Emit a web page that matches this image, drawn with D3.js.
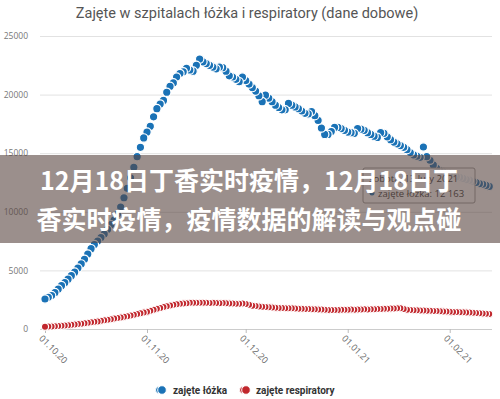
<!DOCTYPE html>
<html>
<head>
<meta charset="utf-8">
<script src="https://cdn.jsdelivr.net/npm/d3@7"></script>
<style>
  html, body { margin: 0; padding: 0; background: #fff; }
  svg { display: block; }
</style>
</head>
<body>
<svg id="chart" width="500" height="399"></svg>
<script>
// daily values from 01.10.2020 to 13.02.2021
const startDay = '2020-10-01';
const endDay = '2021-02-14';
const beds = [
  2560, 2700, 2850, 3100, 3400, 3700, 3950, 4250, 4550, 4850,
  5200, 5550, 5950, 6400, 6850, 7200, 7500, 7800, 8100, 8500,
  8900, 9300, 9800, 10400, 11200, 12000, 12900, 13800, 14700, 15500,
  16300, 16800, 17300, 18100, 18800, 19200, 19500, 20200, 20700, 21000,
  21500, 21800, 21950, 22250, 22100, 22000, 22500, 23030, 22800, 22650,
  22500, 22350, 22200, 22350, 22300, 22000, 21600, 21500, 21300, 21100,
  21500, 21200, 20900, 20600, 20300, 19900, 19400, 19950, 19700, 19400,
  19100, 18900, 18700, 18700, 19250, 19100, 18950, 18800, 18600, 18400,
  18350, 18550, 18200, 17800, 17150, 16600, 16600, 16850, 17200, 17200,
  17100, 16950, 16800, 16750, 16700, 17100, 17050, 16950, 16750, 16600,
  16450, 16350, 16750, 16700, 16400, 16150, 15950, 15800, 15650, 15500,
  15300, 15050, 14850, 14750, 14650, 15530, 14700, 14400, 14000, 13700,
  13500, 13400, 13300, 13300, 13150, 13000, 12950, 12850, 12750, 12700,
  12600, 12500, 12400, 12350, 12250, 12163
];
const respirators = [
  200, 210, 220, 240, 260, 280, 300, 330, 360, 390,
  420, 450, 490, 530, 570, 610, 650, 700, 740, 790,
  840, 890, 940, 990, 1040, 1090, 1150, 1210, 1270, 1340,
  1410, 1480, 1550, 1640, 1720, 1790, 1870, 1940, 2000, 2060,
  2110, 2160, 2180, 2200, 2230, 2250, 2240, 2230, 2250, 2240,
  2220, 2230, 2210, 2200, 2210, 2190, 2180, 2170, 2160, 2150,
  2170, 2130, 2060, 1990, 1960, 1930, 1900, 1880, 1860, 1840,
  1820, 1800, 1790, 1780, 1770, 1760, 1750, 1730, 1720, 1710,
  1700, 1690, 1680, 1670, 1660, 1640, 1630, 1620, 1620, 1630,
  1640, 1640, 1650, 1660, 1650, 1660, 1670, 1680, 1670, 1680,
  1690, 1700, 1710, 1720, 1730, 1740, 1750, 1760, 1780, 1700,
  1650, 1620, 1600, 1590, 1580, 1570, 1560, 1550, 1540, 1530,
  1520, 1500, 1490, 1480, 1460, 1440, 1430, 1420, 1410, 1400,
  1380, 1360, 1340, 1320, 1300, 1290
];
const yTicks = [0, 5000, 10000, 15000, 20000, 25000];
const seriesNames = ['zajęte łóżka', 'zajęte respiratory'];
const seriesColors = ['#1a72b6', '#c1272d'];
const chartTitle = 'Zajęte w szpitalach łóżka i respiratory (dane dobowe)';
const tooltipLines = ['sobota, 13 luty 2021', 'zajęte łóżka: 12 163'];
const bannerLines = ['12月18日丁香实时疫情，12月18日丁', '香实时疫情，疫情数据的解读与观点碰'];

const parse = d3.timeParse('%Y-%m-%d');
const days = d3.timeDay.range(parse(startDay), parse(endDay));

const svg = d3.select('#chart');
const x = d3.scaleTime()
  .domain([parse('2020-10-01'), parse('2021-02-14')])
  .range([45, 492.5]);
const y = d3.scaleLinear().domain([0, 25000]).range([329, 36]);

svg.append('text')
  .attr('x', 247).attr('y', 18)
  .attr('text-anchor', 'middle')
  .attr('font-family', 'Roboto, sans-serif')
  .attr('font-size', 14.5)
  .attr('fill', '#555')
  .text(chartTitle);

// grid + y labels
const yaxis = d3.axisLeft(y).tickValues(yTicks).tickSize(-452).tickFormat(d3.format('d'));
svg.append('g')
  .attr('transform', 'translate(40,0)')
  .call(yaxis)
  .call(g => g.select('.domain').remove())
  .call(g => g.selectAll('line').attr('stroke', '#e2e2e2'))
  .call(g => g.selectAll('text')
    .attr('x', -12)
    .attr('fill', '#777')
    .attr('font-family', '"Open Sans", sans-serif')
    .attr('font-size', 8.5));

// x axis
const xaxis = d3.axisBottom(x)
  .ticks(d3.timeMonth.every(1))
  .tickSize(4)
  .tickFormat(d3.timeFormat('%d.%m.%y'));
svg.append('g')
  .attr('transform', 'translate(0,329)')
  .call(xaxis)
  .call(g => g.select('.domain').attr('d', 'M40.5,0.5H492').attr('stroke', '#ccc'))
  .call(g => g.selectAll('line').attr('stroke', '#bbb'))
  .call(g => g.selectAll('text')
    .attr('fill', '#666')
    .attr('font-family', '"Open Sans", sans-serif')
    .attr('font-size', 9)
    .attr('text-anchor', 'start')
    .attr('dy', 0)
    .attr('transform', 'translate(-2,5) rotate(45)'));

// series, drawn from last day to first so earlier points sit on top
const series = [
  { values: respirators, color: seriesColors[1], r: 3.6 },
  { values: beds, color: seriesColors[0], r: 4.2 }
];
series.forEach(s => {
  const pts = s.values.map((v, i) => [days[i], v]).reverse();
  svg.append('g').selectAll('circle')
    .data(pts)
    .enter()
    .append('circle')
    .attr('cx', d => x(d[0]))
    .attr('cy', d => y(d[1]))
    .attr('r', s.r)
    .attr('fill', s.color)
    .attr('stroke', '#fff')
    .attr('stroke-width', 1.2);
});

// tooltip
const tip = svg.append('g').attr('transform', 'translate(363,168)');
tip.append('rect')
  .attr('width', 112).attr('height', 35).attr('rx', 2)
  .attr('fill', 'rgba(255,255,255,0.88)')
  .attr('stroke', '#999');
tip.append('text')
  .attr('x', 6).attr('y', 14)
  .attr('font-family', '"Open Sans", sans-serif')
  .attr('font-size', 9.5).attr('fill', '#333')
  .text(tooltipLines[0]);
tip.append('circle').attr('cx', 9).attr('cy', 25).attr('r', 2.5).attr('fill', seriesColors[0]);
tip.append('text')
  .attr('x', 15).attr('y', 28.5)
  .attr('font-family', '"Open Sans", sans-serif')
  .attr('font-size', 9.5).attr('fill', '#333')
  .text(tooltipLines[1]);

// legend
const legend = svg.append('g').attr('transform', 'translate(0,390)');
const legX = [[162, 173], [246, 256]];
seriesNames.forEach((name, i) => {
  legend.append('circle').attr('cx', legX[i][0] - 3).attr('cy', 0).attr('r', 3.5).attr('fill', seriesColors[i]).attr('stroke', '#fff');
  legend.append('circle').attr('cx', legX[i][0]).attr('cy', 0).attr('r', 4.3).attr('fill', seriesColors[i]).attr('stroke', '#fff');
  legend.append('text')
    .attr('x', legX[i][1]).attr('y', 3.5)
    .attr('font-family', 'Roboto, sans-serif')
    .attr('font-weight', 'bold')
    .attr('font-size', 10)
    .attr('fill', '#333')
    .text(name);
});

// banner over the chart
svg.append('rect')
  .attr('x', 0).attr('y', 155).attr('width', 500).attr('height', 88)
  .attr('fill', 'rgba(88,68,63,0.6)');
bannerLines.forEach((t, i) => {
  svg.append('text')
    .attr('x', 249).attr('y', 190 + i * 39)
    .attr('text-anchor', 'middle')
    .attr('font-family', '"Noto Sans CJK SC", sans-serif')
    .attr('font-weight', 'bold')
    .attr('font-size', 25)
    .attr('fill', '#fff')
    .text(t);
});
</script>
</body>
</html>
